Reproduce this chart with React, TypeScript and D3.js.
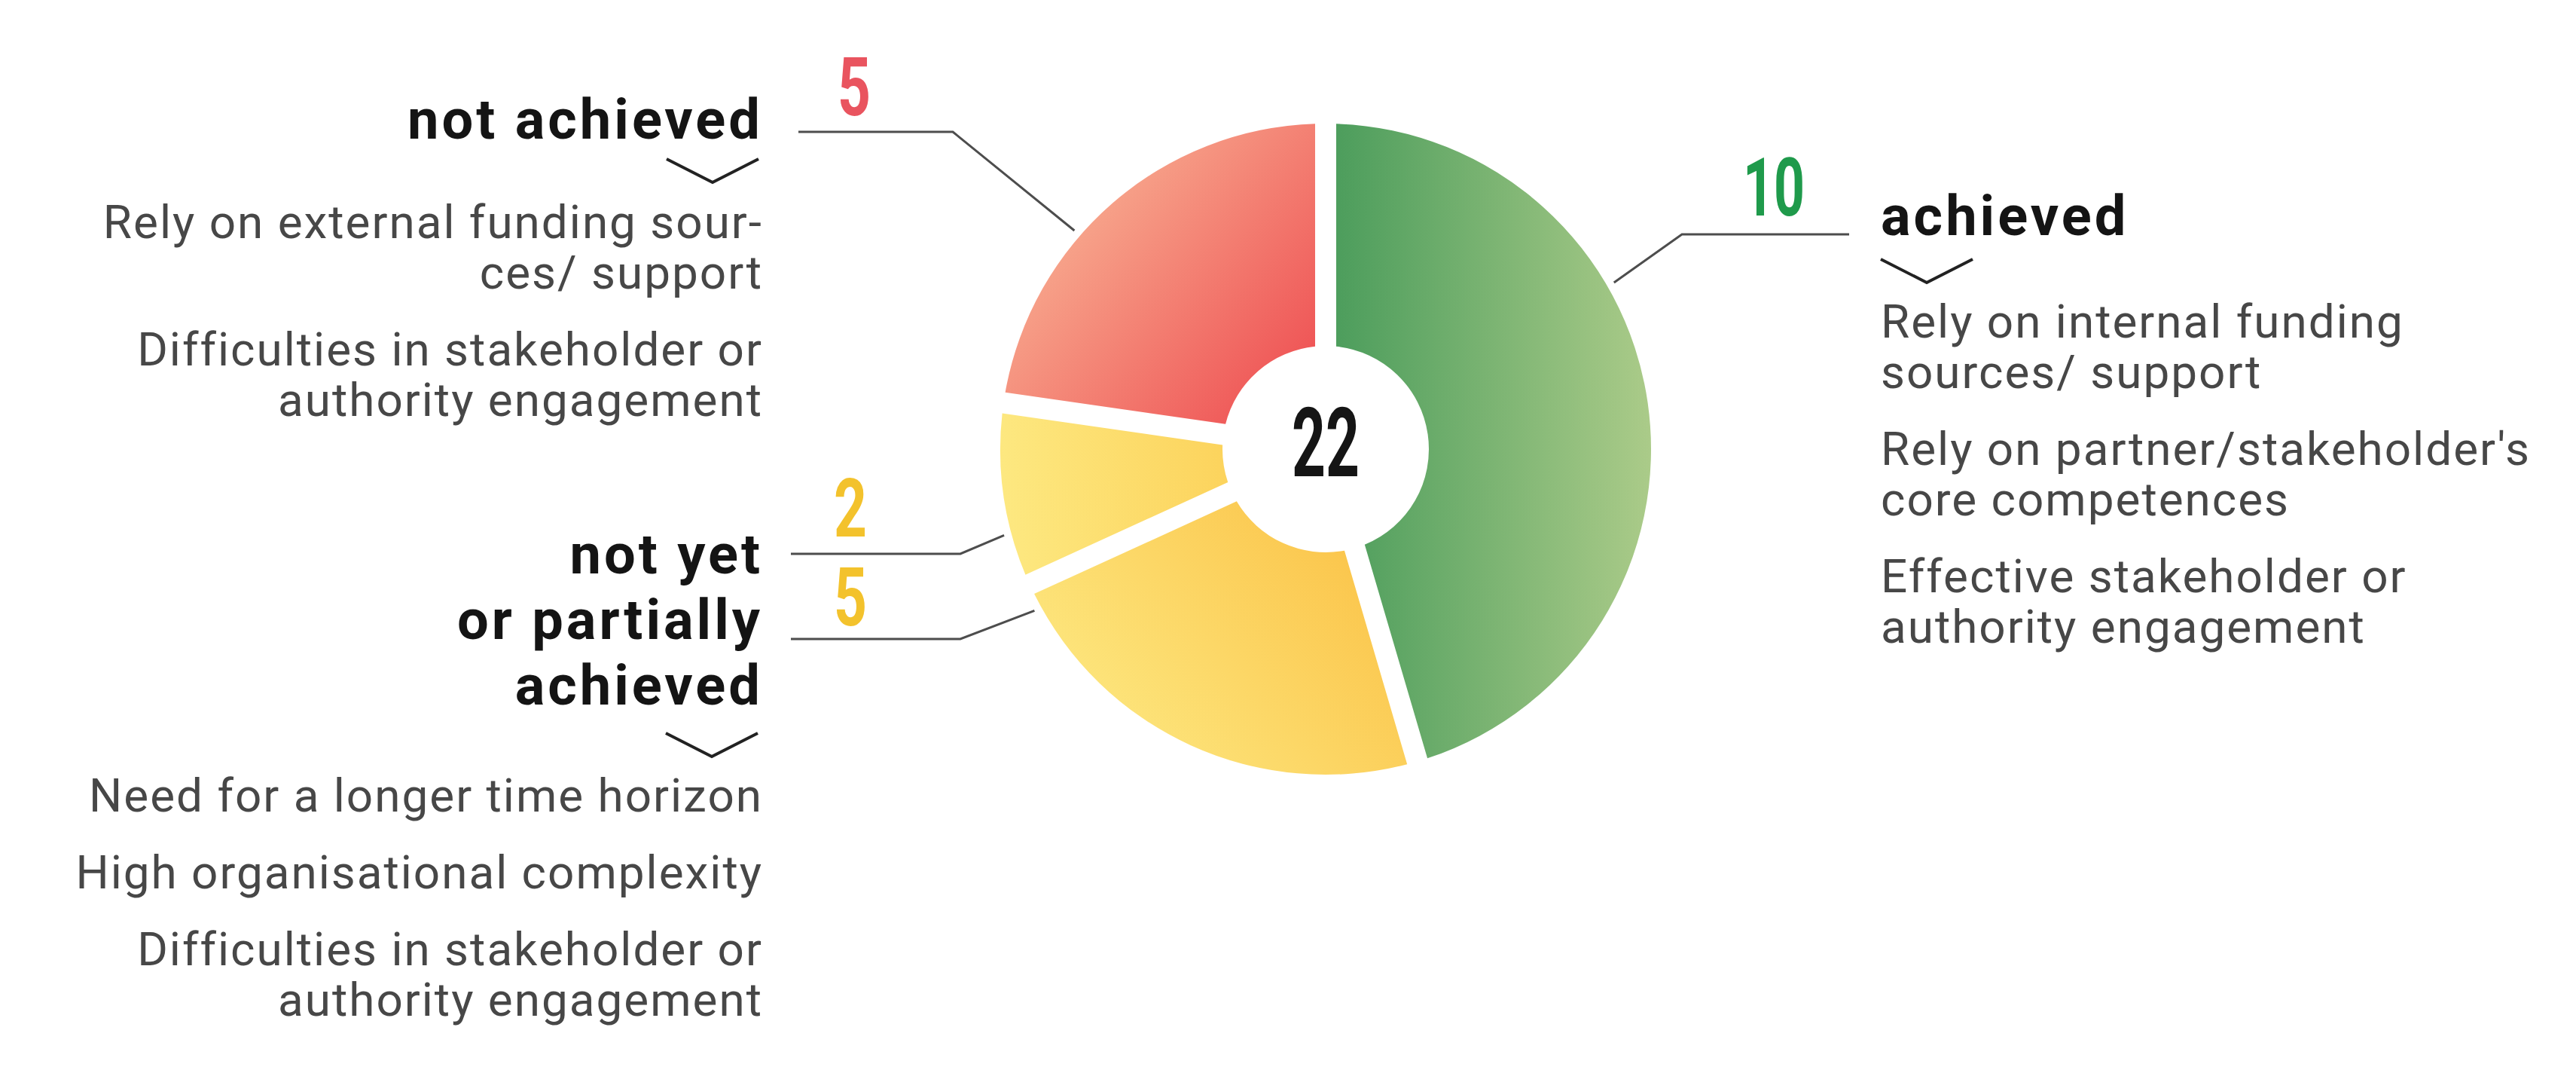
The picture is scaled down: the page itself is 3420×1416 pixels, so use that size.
import React, { useEffect, useRef } from "react";
import * as d3 from "d3";

// slice order clockwise from 12 o'clock
const categories = ["achieved", "partially achieved", "not yet achieved", "not achieved"];
const values = [10, 5, 2, 5];
const valueColors = ["#1f9a4b", "#f3c22c", "#f3c22c", "#e9545f"];
const total = "22";

const leftTopItems = [
  ["Rely on external funding sour-", "ces/ support"],
  ["Difficulties in stakeholder or", "authority engagement"],
];
const leftBottomItems = [
  ["Need for a longer time horizon"],
  ["High organisational complexity"],
  ["Difficulties in stakeholder or", "authority engagement"],
];
const rightItems = [
  ["Rely on internal funding", "sources/ support"],
  ["Rely on partner/stakeholder's", "core competences"],
  ["Effective stakeholder or", "authority engagement"],
];

const W = 3420;
const H = 1416;
const cx = 1760;
const cy = 596;
const outerR = 432;
const innerR = 137;

const App = () => {
  const svgRef = useRef<SVGSVGElement>(null);

  useEffect(() => {
    const svg = d3.select(svgRef.current);
    svg.selectAll("*").remove();

    const defs = svg.append("defs");
    // gradients in the pie group's coordinates (origin = pie centre)
    const grads = [
      { id: "g0", x1: 20, y1: 0, x2: 432, y2: 0, c1: "#4e9e5d", c2: "#abcb89" },
      { id: "g1", x1: -330, y1: 400, x2: 30, y2: 110, c1: "#fde982", c2: "#fbc54b" },
      { id: "g2", x1: -430, y1: 20, x2: -130, y2: -10, c1: "#fde880", c2: "#fcd35c" },
      { id: "g3", x1: -380, y1: -320, x2: -70, y2: -60, c1: "#f8af92", c2: "#ef5556" },
    ];
    grads.forEach((g) => {
      const lg = defs
        .append("linearGradient")
        .attr("id", g.id)
        .attr("gradientUnits", "userSpaceOnUse")
        .attr("x1", g.x1)
        .attr("y1", g.y1)
        .attr("x2", g.x2)
        .attr("y2", g.y2);
      lg.append("stop").attr("offset", "0%").attr("stop-color", g.c1);
      lg.append("stop").attr("offset", "100%").attr("stop-color", g.c2);
    });

    svg.append("rect").attr("width", W).attr("height", H).attr("fill", "#fff");

    const pieG = svg.append("g").attr("transform", `translate(${cx},${cy})`);
    const pie = d3.pie<number>().sort(null).value((d) => d);
    const arcs = pie(values);
    const arc = d3
      .arc<d3.PieArcDatum<number>>()
      .innerRadius(innerR)
      .outerRadius(outerR)
      .padAngle(28 / outerR)
      .padRadius(outerR);

    pieG
      .selectAll("path")
      .data(arcs)
      .enter()
      .append("path")
      .attr("d", arc)
      .attr("fill", (d, i) => `url(#g${i})`);

    pieG
      .append("text")
      .attr("x", 0)
      .attr("y", 36)
      .attr("text-anchor", "middle")
      .attr("font-family", "Roboto")
      .attr("font-weight", 700)
      .attr("font-size", 128)
      .attr("textLength", 90)
      .attr("lengthAdjust", "spacingAndGlyphs")
      .attr("fill", "#151515")
      .text(total);

    // leader lines: text-side points, then the angle where it meets the rim
    const leaders = [
      { pts: [[2455, 311], [2233, 311]], angle: 60 },
      { pts: [[1050, 848], [1275, 848]], angle: 241 },
      { pts: [[1050, 735], [1275, 735]], angle: 255 },
      { pts: [[1060, 175], [1265, 175]], angle: 311 },
    ];
    leaders.forEach((l) => {
      const [px, py] = d3.pointRadial((l.angle * Math.PI) / 180, 442);
      const pts = [...l.pts, [cx + px, cy + py]] as [number, number][];
      svg
        .append("path")
        .attr("d", d3.line()(pts))
        .attr("fill", "none")
        .attr("stroke", "#4d4d4d")
        .attr("stroke-width", 3);
    });

    // value numbers
    const numPos = [
      { x: 2355, y: 286, w: 82 },
      { x: 1129, y: 830, w: 44 },
      { x: 1129, y: 712, w: 44 },
      { x: 1134, y: 153, w: 44 },
    ];
    values.forEach((v, i) => {
      svg
        .append("text")
        .attr("x", numPos[i].x)
        .attr("y", numPos[i].y)
        .attr("text-anchor", "middle")
        .attr("font-family", "Roboto")
        .attr("font-weight", 700)
        .attr("font-size", 108)
        .attr("textLength", numPos[i].w)
        .attr("lengthAdjust", "spacingAndGlyphs")
        .attr("fill", valueColors[i])
        .text(v);
    });

    // headings (multi-line headings as one text with tspans)
    const heading = (lines: string[], x: number, y0: number, anchor: string) => {
      const t = svg
        .append("text")
        .attr("text-anchor", anchor)
        .attr("font-family", "Roboto")
        .attr("font-weight", 700)
        .attr("font-size", 74)
        .attr("letter-spacing", 4)
        .attr("fill", "#141414");
      lines.forEach((s, i) => {
        t.append("tspan")
          .attr("x", x)
          .attr("y", y0 + i * 87)
          .text(s);
      });
    };
    heading(["not achieved"], 1013, 184, "end");
    heading(["not yet", "or partially", "achieved"], 1013, 761, "end");
    heading([categories[0]], 2497, 312, "start");

    const chevron = (x: number, y: number) => {
      svg
        .append("path")
        .attr("d", d3.line()([[x, y], [x + 61, y + 31], [x + 122, y]]))
        .attr("fill", "none")
        .attr("stroke", "#222")
        .attr("stroke-width", 4);
    };
    chevron(885, 211);
    chevron(884, 973);
    chevron(2497, 344);

    const items = (list: string[][], x: number, y0: number, anchor: string) => {
      let y = y0;
      list.forEach((item) => {
        item.forEach((t) => {
          svg
            .append("text")
            .attr("x", x)
            .attr("y", y)
            .attr("text-anchor", anchor)
            .attr("font-family", "Roboto")
            .attr("font-size", 62)
            .attr("letter-spacing", 2)
            .attr("fill", "#474747")
            .text(t);
          y += 67;
        });
        y += 35;
      });
    };
    items(leftTopItems, 1013, 316, "end");
    items(leftBottomItems, 1013, 1077, "end");
    items(rightItems, 2497, 448, "start");
  }, []);

  return (
    <svg
      ref={svgRef}
      width={W}
      height={H}
      style={{ position: "absolute", left: 0, top: 0, display: "block" }}
    ></svg>
  );
};

export default App;
